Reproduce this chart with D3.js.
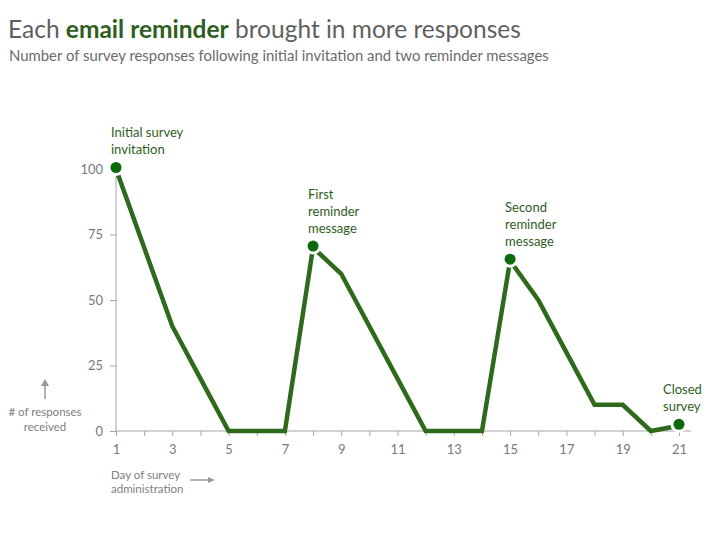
<!DOCTYPE html>
<html><head><meta charset="utf-8">
<script src="https://cdn.jsdelivr.net/npm/d3@7"></script>
<style>body{margin:0;background:#fff}svg{display:block}text{font-family:Lato,"Open Sans",sans-serif}</style>
</head><body>
<svg id="c" width="720" height="540"></svg>
<script>
const days = [1,2,3,4,5,6,7,8,9,10,11,12,13,14,15,16,17,18,19,20,21];
const responses = [100,70,40,20,0,0,0,70,60,40,20,0,0,0,65,50,30,10,10,0,2];
const yTicks = [0,25,50,75,100];
const xTickLabels = [1,3,5,7,9,11,13,15,17,19,21];
const markerDays = [1,8,15,21];
const markerLabels = [["Initial survey","invitation"],["First","reminder","message"],["Second","reminder","message"],["Closed","survey"]];

const svg = d3.select("#c");
const x = d3.scaleLinear().domain([1,21]).range([116,679]);
const y = d3.scaleLinear().domain([0,100]).range([431,169]);
const grey = "#a6a6a6", green = "#2f6a1c", dotGreen = "#0b6a0b", textGreen = "#2e5e1e";

// title
const t = svg.append("text").attr("x",8).attr("y",38).attr("font-size",24.5).attr("fill","#5f5f5f");
t.append("tspan").text("Each ");
t.append("tspan").attr("font-weight","bold").attr("fill",textGreen).text("email reminder");
t.append("tspan").text(" brought in more responses");
svg.append("text").attr("x",9).attr("y",61).attr("font-size",14.9).attr("fill","#6b6b6b")
  .text("Number of survey responses following initial invitation and two reminder messages");

// axes
const yAxis = d3.axisLeft(y).tickValues(yTicks).tickSize(6).tickPadding(7);
const gy = svg.append("g").attr("transform",`translate(${x(1)},0)`).call(yAxis);
gy.select(".domain").attr("stroke",grey).attr("d",`M-6,${y(100)}H0V${y(0)}`);
gy.selectAll(".tick line").attr("stroke",grey);
gy.selectAll(".tick text").attr("fill","#7a7a7a").attr("font-size",13).attr("font-family","Lato,'Open Sans',sans-serif");

const xAxis = d3.axisBottom(x).tickValues(days).tickSize(5).tickPadding(9)
  .tickFormat(d => xTickLabels.includes(d) ? d : "");
const gx = svg.append("g").attr("transform",`translate(0,${y(0)})`).call(xAxis);
gx.select(".domain").attr("stroke",grey).attr("d",`M${x(1)},0H${x(21)+12}`);
gx.selectAll(".tick line").attr("stroke",grey);
gx.selectAll(".tick text").attr("fill","#7a7a7a").attr("font-size",13).attr("font-family","Lato,'Open Sans',sans-serif");

// line
const line = d3.line().x((d,i)=>x(days[i])).y(d=>y(d));
svg.append("path").datum(responses).attr("d",line).attr("fill","none")
  .attr("stroke",green).attr("stroke-width",4.5).attr("stroke-linejoin","miter");

// markers
markerDays.forEach((d,i)=>{
  const v = responses[days.indexOf(d)];
  const cx = x(d), cy = y(v) - 1.5;
  svg.append("circle").attr("cx",cx).attr("cy",cy).attr("r",5.5)
    .attr("fill",dotGreen).attr("stroke","#fff").attr("stroke-width",6).attr("paint-order","stroke");
  const lines = markerLabels[i];
  const lh = 17;
  const tx = i===3 ? cx - 16 : cx - 5;
  const baseY = cy - 13.5 - (lines.length-1)*lh;
  const tt = svg.append("text").attr("font-size",13).attr("fill",textGreen);
  lines.forEach((s,j)=>tt.append("tspan").attr("x",tx).attr("y",baseY + j*lh).text(s));
});

// axis captions
const yc = svg.append("text").attr("font-size",11.5).attr("fill","#808080").attr("text-anchor","middle");
yc.append("tspan").attr("x",45).attr("y",416).text("# of responses");
yc.append("tspan").attr("x",45).attr("y",431).text("received");
svg.append("line").attr("x1",45).attr("x2",45).attr("y1",399).attr("y2",384).attr("stroke","#999").attr("stroke-width",1.5);
svg.append("path").attr("d","M41,386L45,379L49,386Z").attr("fill","#999");

const xc = svg.append("text").attr("font-size",11.5).attr("fill","#808080");
xc.append("tspan").attr("x",111).attr("y",479).text("Day of survey");
xc.append("tspan").attr("x",111).attr("y",493).text("administration");
svg.append("line").attr("x1",190).attr("x2",210).attr("y1",480).attr("y2",480).attr("stroke","#999").attr("stroke-width",1.5);
svg.append("path").attr("d","M208,477L215,480L208,483Z").attr("fill","#999");
</script>
</body></html>
